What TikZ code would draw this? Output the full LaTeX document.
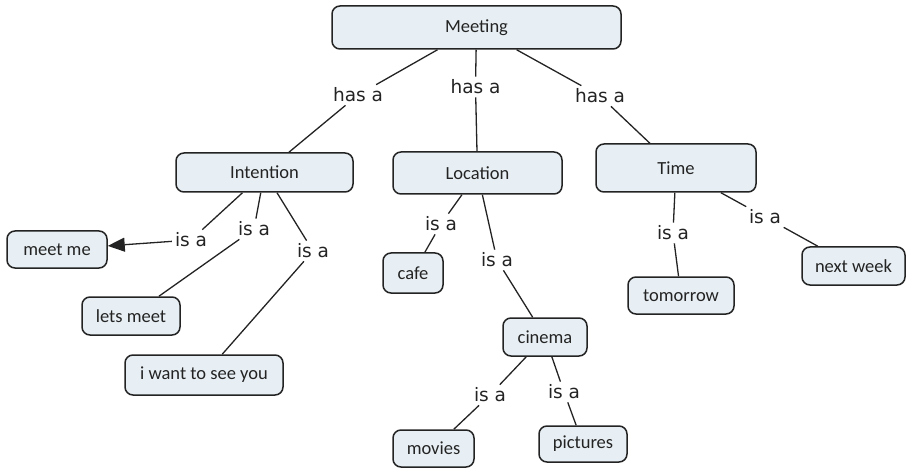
\documentclass[tikz,border=0pt]{standalone}
\usepackage{fontspec}
\setmainfont{Carlito}
\newfontfamily\linkfont{DejaVu Sans}
\usetikzlibrary{arrows.meta}
\definecolor{boxfill}{RGB}{232,239,244}
\definecolor{ink}{RGB}{35,35,35}

\begin{document}
\begin{tikzpicture}[x=1pt, y=-1pt, >={Triangle[length=17pt,width=14pt]},
    concept/.style 2 args={draw=ink, line width=1.5pt, fill=boxfill, rounded corners=8pt,
      inner sep=0pt, minimum width=#1pt, minimum height=#2pt, text=ink,
      font=\fontsize{18.5}{22}\selectfont},
    link/.style={inner sep=3pt, text=ink, font=\linkfont\fontsize{18.5}{22}\selectfont},
    wire/.style={draw=ink, line width=1.3pt}]
  \useasboundingbox (0,0) rectangle (906,468);
  % concepts
  \node[concept={289}{43}] (meeting) at (476.5,27.5) {Meeting};
  \node[concept={177}{39}] (intention) at (264.5,172.5) {Intention};
  \node[concept={169}{42}] (location) at (477.5,173) {Location};
  \node[concept={160}{48}] (time) at (676,168) {Time};
  \node[concept={100}{37}] (meetme) at (57,249.5) {meet me};
  \node[concept={98}{38}] (letsmeet) at (131,316) {lets meet};
  \node[concept={158}{40}] (seeyou) at (204,375) {i want to see you};
  \node[concept={60}{40}] (cafe) at (413,273) {cafe};
  \node[concept={84}{38}] (cinema) at (545,337) {cinema};
  \node[concept={81}{37}] (movies) at (433.5,448.5) {movies};
  \node[concept={88}{36}] (pictures) at (583,444) {pictures};
  \node[concept={106}{37}] (tomorrow) at (681,295.5) {tomorrow};
  \node[concept={103}{38}] (nextweek) at (853.5,266) {next week};
  % linking phrases
  \node[link] (hasI) at (358,95) {has a};
  \node[link] (hasL) at (475.5,87) {has a};
  \node[link] (hasT) at (600,96) {has a};
  \node[link] (isMeet) at (191,240) {is a};
  \node[link] (isLets) at (254,229) {is a};
  \node[link] (isSee) at (313,251) {is a};
  \node[link] (isCafe) at (441,224) {is a};
  \node[link] (isCinema) at (497,260) {is a};
  \node[link] (isMovies) at (490,395) {is a};
  \node[link] (isPictures) at (564,392) {is a};
  \node[link] (isTomorrow) at (673,233) {is a};
  \node[link] (isNext) at (765,217) {is a};
  % connectors
  \foreach \a/\b in {meeting/hasI, hasI/intention, meeting/hasL, hasL/location,
      meeting/hasT, hasT/time, intention/isMeet, intention/isLets, isLets/letsmeet,
      intention/isSee, isSee/seeyou, location/isCafe, isCafe/cafe,
      location/isCinema, isCinema/cinema, cinema/isMovies, isMovies/movies,
      cinema/isPictures, isPictures/pictures, time/isTomorrow, isTomorrow/tomorrow,
      time/isNext, isNext/nextweek}
    \draw[wire] (\a) -- (\b);
  \draw[wire, ->] (isMeet) -- (meetme);
\end{tikzpicture}
\end{document}
